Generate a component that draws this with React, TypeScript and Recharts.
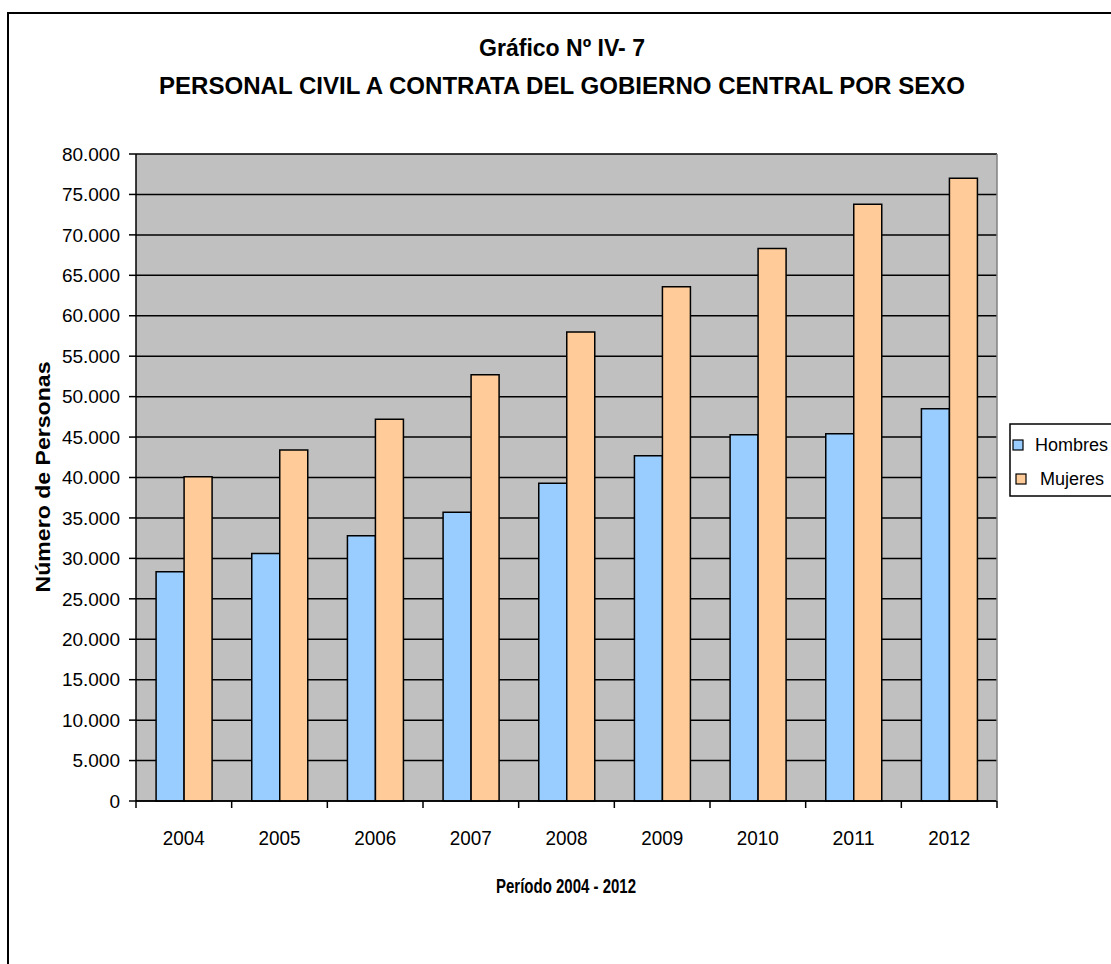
import { BarChart, Bar, XAxis, YAxis, CartesianGrid } from "recharts";

// ---------------------------------------------------
// DATA
// ---------------------------------------------------
const years = ["2004", "2005", "2006", "2007", "2008", "2009", "2010", "2011", "2012"];
const hombres = [28350, 30600, 32800, 35700, 39300, 42700, 45300, 45400, 48500];
const mujeres = [40100, 43400, 47200, 52700, 58000, 63600, 68300, 73800, 77000];
const yTicks = [
  0, 5000, 10000, 15000, 20000, 25000, 30000, 35000, 40000,
  45000, 50000, 55000, 60000, 65000, 70000, 75000, 80000,
];

const data = years.map((year, i) => ({
  year,
  Hombres: hombres[i],
  Mujeres: mujeres[i],
}));

// ---------------------------------------------------
// LAYOUT
// ---------------------------------------------------
const W = 1111;
const H = 964;
const PLOT_LEFT = 136;
const PLOT_RIGHT = 997;
const PLOT_TOP = 154;
const PLOT_BOTTOM = 801;
const Y_AXIS_W = 100;
const X_AXIS_H = 60;
const BAND = (PLOT_RIGHT - PLOT_LEFT) / years.length;
const FONT = "'Liberation Sans', Arial, sans-serif";

const fmt = (v: number) =>
  v === 0 ? "0" : v.toString().replace(/\B(?=(\d{3})+(?!\d))/g, ".");

// year label + tick marks on the category boundaries
function YearTick({ x, payload, index }: any) {
  const left = x - BAND / 2;
  const right = x + BAND / 2;
  return (
    <g>
      <line x1={left} x2={left} y1={PLOT_BOTTOM} y2={PLOT_BOTTOM + 7} stroke="#000" strokeWidth={1.5} />
      {index === years.length - 1 && (
        <line x1={right} x2={right} y1={PLOT_BOTTOM} y2={PLOT_BOTTOM + 7} stroke="#000" strokeWidth={1.5} />
      )}
      <text
        x={x}
        y={845}
        textAnchor="middle"
        fontSize={21}
        fontFamily={FONT}
        fill="#000"
        textLength={42}
        lengthAdjust="spacingAndGlyphs"
      >
        {payload.value}
      </text>
    </g>
  );
}

function LegendBox() {
  const items = [
    { name: "Hombres", color: "#99CCFF", sx: 1013, tx: 1035, y: 445 },
    { name: "Mujeres", color: "#FFCC99", sx: 1016, tx: 1040, y: 479 },
  ];
  return (
    <svg width={W} height={H} style={{ position: "absolute", left: 0, top: 0, pointerEvents: "none" }}>
      <rect x={1010} y={424} width={120} height={72} fill="#fff" stroke="#000" strokeWidth={1.5} />
      {items.map((it) => (
        <g key={it.name}>
          <rect x={it.sx} y={it.y - 5} width={10} height={10} fill={it.color} stroke="#000" strokeWidth={1.2} />
          <text x={it.tx} y={it.y + 6} fontSize={18} fontFamily={FONT} fill="#000">
            {it.name}
          </text>
        </g>
      ))}
    </svg>
  );
}

// ---------------------------------------------------
// MAIN COMPONENT
// ---------------------------------------------------
export default function App() {
  return (
    <div style={{ position: "absolute", left: 0, top: 0, width: W, height: H, overflow: "hidden", background: "#fff" }}>
      {/* outer frame */}
      <div
        style={{
          position: "absolute",
          left: 7,
          top: 12,
          width: 1130,
          height: 980,
          border: "2px solid #000",
          boxSizing: "border-box",
        }}
      />

      <BarChart
        width={W}
        height={H}
        data={data}
        margin={{
          top: PLOT_TOP,
          right: W - PLOT_RIGHT,
          bottom: H - PLOT_BOTTOM - X_AXIS_H,
          left: PLOT_LEFT - Y_AXIS_W,
        }}
        barGap={0}
        barCategoryGap="21%"
        style={{ position: "absolute", left: 0, top: 0 }}
      >
        <CartesianGrid
          vertical={false}
          fill="#C0C0C0"
          fillOpacity={1}
          stroke="#000"
          strokeWidth={1.5}
        />
        <XAxis
          dataKey="year"
          height={X_AXIS_H}
          axisLine={{ stroke: "#000", strokeWidth: 1.5 }}
          tickLine={false}
          tick={<YearTick />}
          interval={0}
        />
        <YAxis
          width={Y_AXIS_W}
          domain={[0, 80000]}
          ticks={yTicks}
          interval={0}
          tickFormatter={fmt}
          axisLine={{ stroke: "#000", strokeWidth: 1.5 }}
          tickLine={{ stroke: "#000", strokeWidth: 1.5 }}
          tickSize={7}
          tickMargin={9}
          tick={{ fill: "#000", fontSize: 19, fontFamily: FONT }}
        />
        <Bar dataKey="Hombres" fill="#99CCFF" stroke="#000" strokeWidth={1.5} isAnimationActive={false} />
        <Bar dataKey="Mujeres" fill="#FFCC99" stroke="#000" strokeWidth={1.5} isAnimationActive={false} />
      </BarChart>

      {/* right border of the plot area + titles */}
      <svg width={W} height={H} style={{ position: "absolute", left: 0, top: 0, pointerEvents: "none" }}>
        <line x1={PLOT_RIGHT} x2={PLOT_RIGHT} y1={PLOT_TOP} y2={PLOT_BOTTOM} stroke="#808080" strokeWidth={1.5} />
        <text
          x={562}
          y={56}
          textAnchor="middle"
          fontSize={24}
          fontWeight="bold"
          fontFamily={FONT}
          fill="#000"
          textLength={166}
          lengthAdjust="spacingAndGlyphs"
        >
          Gráfico Nº IV- 7
        </text>
        <text
          x={562}
          y={94}
          textAnchor="middle"
          fontSize={24}
          fontWeight="bold"
          fontFamily={FONT}
          fill="#000"
          textLength={806}
          lengthAdjust="spacingAndGlyphs"
        >
          PERSONAL CIVIL A CONTRATA DEL GOBIERNO CENTRAL POR SEXO
        </text>
        <text
          transform="translate(50, 477) rotate(-90)"
          textAnchor="middle"
          fontSize={20}
          fontWeight="bold"
          fontFamily={FONT}
          fill="#000"
          textLength={231}
          lengthAdjust="spacingAndGlyphs"
        >
          Número de Personas
        </text>
        <text
          x={566}
          y={893}
          textAnchor="middle"
          fontSize={20}
          fontWeight="bold"
          fontFamily={FONT}
          fill="#000"
          textLength={140}
          lengthAdjust="spacingAndGlyphs"
        >
          Período 2004 - 2012
        </text>
      </svg>

      <LegendBox />
    </div>
  );
}
